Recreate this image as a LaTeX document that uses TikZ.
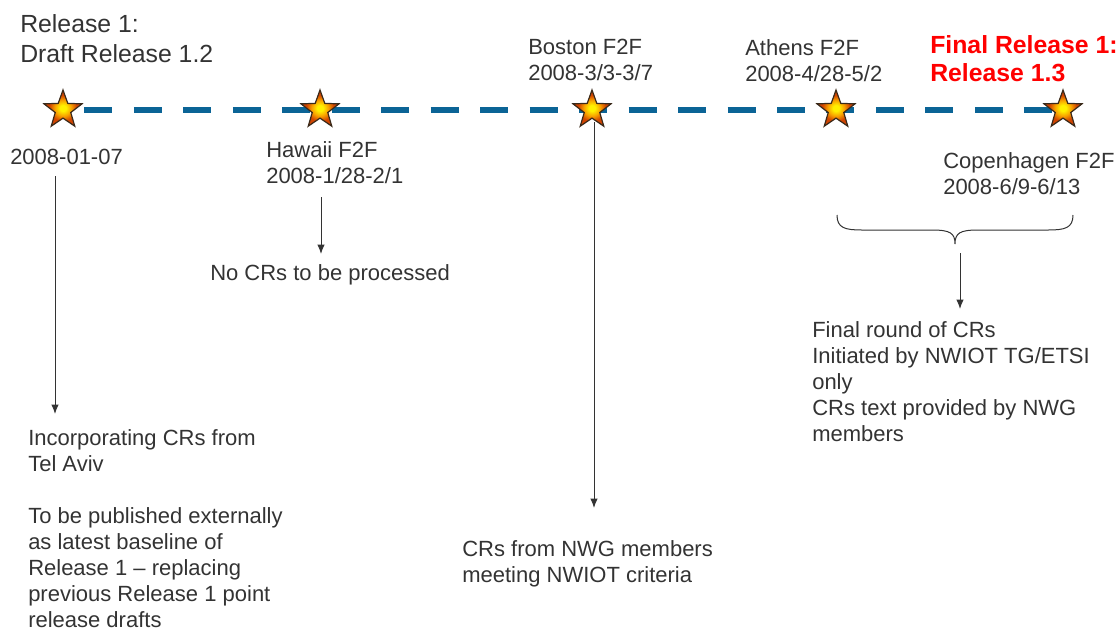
\documentclass[tikz,border=0pt]{standalone}
\usepackage{fontspec}
\setmainfont{Liberation Sans}
\usetikzlibrary{shapes.geometric,arrows.meta}
\definecolor{txt}{HTML}{333333}
\definecolor{tl}{HTML}{0B6496}
\definecolor{starline}{HTML}{3A2A1A}
\definecolor{starin}{HTML}{FFF000}
\definecolor{starmid}{HTML}{F8A000}
\definecolor{starout}{HTML}{D04400}
\pgfdeclareradialshading{starshade}{\pgfpoint{0bp}{0bp}}{color(0bp)=(starin); color(4bp)=(starin); color(11bp)=(starmid); color(18bp)=(starout); color(50bp)=(starout)}
\begin{document}
\begin{tikzpicture}[x=0.75pt,y=-0.75pt,
  lbl/.style={anchor=north west, inner sep=0pt, align=left, text=txt, font=\fontsize{16.5}{19.5}\selectfont},
  ttl/.style={lbl, font=\fontsize{18.6}{22.5}\selectfont},
  rel/.style={lbl, text=red, font=\fontsize{18.6}{21}\selectfont\bfseries},
  mstar/.style={star, star points=5, star point ratio=2.45, minimum size=30pt, inner sep=0pt, draw=starline, line width=0.9pt, shading=starshade},
  arr/.style={-{Latex[length=7pt,width=5.5pt]}, draw=txt, line width=0.75pt},
  tline/.style={draw=tl, line width=4.5pt, dash pattern=on 21pt off 16.1pt, dash phase=21pt},
  brc/.style={draw=txt, line width=0.75pt}
]
\useasboundingbox (0,0) rectangle (1120,632);

% timeline
\coordinate (t1) at (63,110);
\coordinate (t2) at (320,110);
\coordinate (t3) at (592,110);
\coordinate (t4) at (836,110);
\coordinate (t5) at (1063,110);
\draw[tline] (t1) -- (t5);
\node[mstar] (s1) at (t1) {};
\node[mstar] (s2) at (t2) {};
\node[mstar] (s3) at (t3) {};
\node[mstar] (s4) at (t4) {};
\node[mstar] (s5) at (t5) {};

% top labels
\node[ttl] (title) at (20,14) {Release 1:\\Draft Release 1.2};
\node[lbl] (boston) at (528,39) {Boston F2F\\2008-3/3-3/7};
\node[lbl] (athens) at (745,39) {Athens F2F\\2008-4/28-5/2};
\node[rel] (final) at (930,35) {Final Release 1:\\Release 1.3};

% lower labels
\node[lbl] (d1) at (10,149) {2008-01-07};
\node[lbl] (hawaii) at (266,141) {Hawaii F2F\\2008-1/28-2/1};
\node[lbl] (copen) at (943,152) {Copenhagen F2F\\2008-6/9-6/13};

\node[lbl] (n1) at (28,429) {Incorporating CRs from\\Tel Aviv\\ \\To be published externally\\as latest baseline of\\Release 1 -- replacing\\previous Release 1 point\\release drafts};
\node[lbl, anchor=base west] (n2) at (210,280) {No CRs to be processed};
\node[lbl] (n3) at (462,540) {CRs from NWG members\\meeting NWIOT criteria};
\node[lbl] (n4) at (812,321) {Final round of CRs\\Initiated by NWIOT TG/ETSI\\only\\CRs text provided by NWG\\members};

% arrows
\coordinate (a1s) at (55,176);  \coordinate (a1e) at (55,414);
\coordinate (a2s) at (321,197); \coordinate (a2e) at (321,254);
\coordinate (a3s) at (594,122); \coordinate (a3e) at (594,508);
\coordinate (a4s) at (960,253); \coordinate (a4e) at (960,309);
\draw[arr] (a1s) -- (a1e);
\draw[arr] (a2s) -- (a2e);
\draw[arr] (a3s) -- (a3e);
\draw[arr] (a4s) -- (a4e);

% brace
\draw[brc] (837,215) .. controls (837,228) and (845,230) .. (862,230)
  -- (932,230) .. controls (950,230) and (955,233) .. (955,244)
  .. controls (955,233) and (960,230) .. (978,230)
  -- (1048,230) .. controls (1065,230) and (1073,228) .. (1073,215);
\end{tikzpicture}
\end{document}
